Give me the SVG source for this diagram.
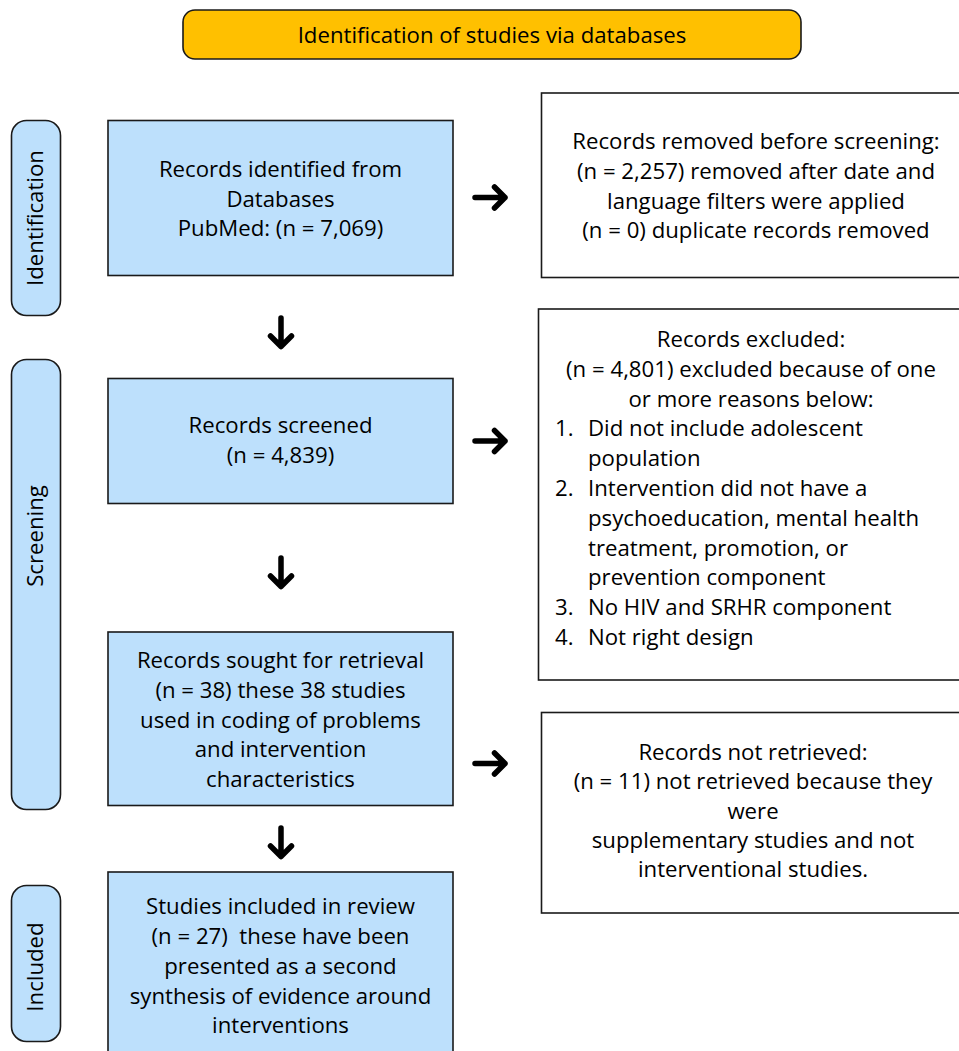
<svg xmlns="http://www.w3.org/2000/svg" width="959" height="1051" viewBox="0 0 959 1051">
<defs>
<style>
.t{font-family:"Open Sans","Noto Sans","Liberation Sans",sans-serif;font-size:22.2px;fill:#000}
.c{text-anchor:middle}
.blue{fill:#BDE0FC;stroke:#1a1a1a;stroke-width:1.6}
.white{fill:#fff;stroke:#1a1a1a;stroke-width:1.6}
.pill{fill:#BDE0FC;stroke:#1a1a1a;stroke-width:1.6}
.arr{fill:none;stroke:#000;stroke-width:5.5;stroke-linecap:round;stroke-linejoin:round}
</style>
</defs>
<rect width="959" height="1051" fill="#fff"/>

<g id="header">
<rect x="183" y="10" width="618" height="49" rx="12" fill="#FFC000" stroke="#1a1a1a" stroke-width="1.6"/>
<text class="t c" x="492" y="43">Identification of studies via databases</text>
</g>

<g id="phase-identification">
<rect class="pill" x="11.5" y="120.5" width="49" height="195" rx="15"/>
<text class="t c" transform="translate(43,218) rotate(-90)">Identification</text>
</g>
<g id="phase-screening">
<rect class="pill" x="11.5" y="359.5" width="49" height="450" rx="15"/>
<text class="t c" transform="translate(43,536) rotate(-90)">Screening</text>
</g>
<g id="phase-included">
<rect class="pill" x="11.5" y="885.5" width="49" height="156" rx="15"/>
<text class="t c" transform="translate(43,967) rotate(-90)">Included</text>
</g>

<g id="identified">
<rect class="blue" x="108" y="120.5" width="345" height="155"/>
<text class="t c" x="280.5" y="177">Records identified from</text>
<text class="t c" x="280.5" y="206.5">Databases</text>
<text class="t c" x="280.5" y="236">PubMed: (n = 7,069)</text>
</g>

<g id="removed">
<rect class="white" x="541.5" y="93" width="430" height="184.5"/>
<text class="t c" x="756" y="149">Records removed before screening:</text>
<text class="t c" x="756" y="179">(n = 2,257) removed after date and</text>
<text class="t c" x="756" y="208.5">language filters were applied</text>
<text class="t c" x="756" y="238">(n = 0) duplicate records removed</text>
</g>

<g id="screened">
<rect class="blue" x="108" y="378.5" width="345" height="125"/>
<text class="t c" x="280.5" y="432.5">Records screened</text>
<text class="t c" x="280.5" y="462.5">(n = 4,839)</text>
</g>

<g id="excluded">
<rect class="white" x="538.5" y="309" width="430" height="371"/>
<text class="t c" x="751" y="347">Records excluded:</text>
<text class="t c" x="751" y="376.8">(n = 4,801) excluded because of one</text>
<text class="t c" x="751" y="406.6">or more reasons below:</text>
<text class="t" x="555" y="436.4">1.</text>
<text class="t" x="588" y="436.4">Did not include adolescent</text>
<text class="t" x="588" y="466.2">population</text>
<text class="t" x="555" y="496">2.</text>
<text class="t" x="588" y="496">Intervention did not have a</text>
<text class="t" x="588" y="525.8">psychoeducation, mental health</text>
<text class="t" x="588" y="555.6">treatment, promotion, or</text>
<text class="t" x="588" y="585.4">prevention component</text>
<text class="t" x="555" y="615.2">3.</text>
<text class="t" x="588" y="615.2">No HIV and SRHR component</text>
<text class="t" x="555" y="645">4.</text>
<text class="t" x="588" y="645">Not right design</text>
</g>

<g id="sought">
<rect class="blue" x="108" y="632" width="345" height="173.5"/>
<text class="t c" x="280.5" y="668">Records sought for retrieval</text>
<text class="t c" x="280.5" y="698">(n = 38) these 38 studies</text>
<text class="t c" x="280.5" y="727.5">used in coding of problems</text>
<text class="t c" x="280.5" y="757">and intervention</text>
<text class="t c" x="280.5" y="787">characteristics</text>
</g>

<g id="not-retrieved">
<rect class="white" x="541.5" y="712.5" width="430" height="200.5"/>
<text class="t c" x="753" y="760">Records not retrieved:</text>
<text class="t c" x="753" y="789">(n = 11) not retrieved because they</text>
<text class="t c" x="753" y="818.5">were</text>
<text class="t c" x="753" y="848">supplementary studies and not</text>
<text class="t c" x="753" y="877">interventional studies.</text>
</g>

<g id="included">
<rect class="blue" x="108" y="872" width="345" height="190"/>
<text class="t c" x="280.5" y="914">Studies included in review</text>
<text class="t c" x="280.5" y="944" xml:space="preserve">(n = 27)  these have been</text>
<text class="t c" x="280.5" y="974">presented as a second</text>
<text class="t c" x="280.5" y="1003.5">synthesis of evidence around</text>
<text class="t c" x="280.5" y="1033">interventions</text>
</g>

<g id="connectors">
<path class="arr" d="M475,197.5 H505 M494.5,187 L505,197.5 L494.5,208"/>
<path class="arr" d="M475,441 H505 M494.5,430.5 L505,441 L494.5,451.5"/>
<path class="arr" d="M475,763.5 H505 M494.5,753 L505,763.5 L494.5,774"/>
<path class="arr" d="M281,318 V346.5 M270.5,336 L281,346.5 L291.5,336"/>
<path class="arr" d="M281,558 V586.5 M270.5,576 L281,586.5 L291.5,576"/>
<path class="arr" d="M281,828 V856.5 M270.5,846 L281,856.5 L291.5,846"/>
</g>
</svg>
